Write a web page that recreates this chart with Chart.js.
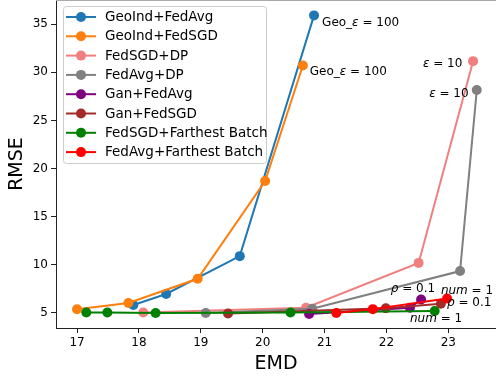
<!DOCTYPE html>
<html lang="en">
<head>
    <meta charset="UTF-8">
    <title>RMSE vs EMD</title>
    <script src="https://cdn.jsdelivr.net/npm/chart.js"></script>
    <style>
        html, body { margin: 0; background: #fff; overflow: hidden; }
        #wrap { width: 496px; height: 379px; overflow: hidden; }
        canvas { display: block; }
    </style>
</head>
<body>
<div id="wrap"><canvas id="chart" width="504" height="379"></canvas></div>
<script>
    // series names and colours (matplotlib defaults / named colours)
    const seriesNames = ['GeoInd+FedAvg', 'GeoInd+FedSGD', 'FedSGD+DP', 'FedAvg+DP',
        'Gan+FedAvg', 'Gan+FedSGD', 'FedSGD+Farthest Batch', 'FedAvg+Farthest Batch'];
    const seriesColors = ['#1f77b4', '#ff7f0e', '#f08080', '#808080',
        '#800080', '#a52a2a', '#008000', '#ff0000'];

    // EMD (x) and RMSE (y)
    const geoFedAvgX = [17.91, 18.44, 19.63, 20.83];
    const geoFedAvgY = [5.83, 6.97, 10.9, 35.9];
    const geoFedSgdX = [17.0, 17.83, 18.95, 20.04, 20.65];
    const geoFedSgdY = [5.38, 6.04, 8.55, 18.7, 30.7];
    const sgdDpX = [18.07, 20.7, 22.52, 23.4];
    const sgdDpY = [5.05, 5.55, 10.2, 31.15];
    const avgDpX = [19.08, 20.8, 23.19, 23.46];
    const avgDpY = [5.0, 5.45, 9.35, 28.15];
    const ganAvgX = [20.75, 22.38, 22.56];
    const ganAvgY = [4.9, 5.55, 6.4];
    const ganSgdX = [19.44, 21.99, 22.88];
    const ganSgdY = [4.95, 5.5, 5.95];
    const farSgdX = [17.15, 17.49, 18.27, 20.45, 22.78];
    const farSgdY = [5.05, 5.05, 5.0, 5.05, 5.2];
    const farAvgX = [21.19, 21.78, 22.98];
    const farAvgY = [5.0, 5.4, 6.5];

    const xTicks = [17, 18, 19, 20, 21, 22, 23];
    const yTicks = [5, 10, 15, 20, 25, 30, 35];

    // text notes: anchor (x, y) in data units, parts with italic flag
    const noteX = [20.96, 20.76, 22.59, 22.69, 22.07, 22.88, 22.98, 22.38];
    const noteY = [35.1, 30.03, 30.86, 27.74, 7.49, 7.28, 6.04, 4.38];
    const noteParts = [
        [['Geo_', 0], ['ε', 1], [' = 100', 0]],
        [['Geo_', 0], ['ε', 1], [' = 100', 0]],
        [['ε', 1], [' = 10', 0]],
        [['ε', 1], [' = 10', 0]],
        [['ρ', 1], [' = 0.1', 0]],
        [['num', 1], [' = 1', 0]],
        [['ρ', 1], [' = 0.1', 0]],
        [['num', 1], [' = 1', 0]]
    ];

    const allX = [geoFedAvgX, geoFedSgdX, sgdDpX, avgDpX, ganAvgX, ganSgdX, farSgdX, farAvgX];
    const allY = [geoFedAvgY, geoFedSgdY, sgdDpY, avgDpY, ganAvgY, ganSgdY, farSgdY, farAvgY];

    const FONT = '"DejaVu Sans", sans-serif';

    const datasets = seriesNames.map((name, i) => ({
        label: name,
        data: allX[i].map((x, j) => ({ x: x, y: allY[i][j] })),
        showLine: true,
        borderColor: seriesColors[i],
        backgroundColor: seriesColors[i],
        borderWidth: 2,
        pointRadius: 5,
        pointBorderWidth: 0,
        pointBackgroundColor: seriesColors[i],
        clip: false,
        order: -i // later series on top, like matplotlib
    }));

    const extras = {
        id: 'extras',
        afterDatasetsDraw(chart) {
            const c = chart.ctx;
            const xs = chart.scales.x, ys = chart.scales.y;
            // top spine (cut off at the edge)
            c.save();
            c.strokeStyle = '#aaa';
            c.lineWidth = 1;
            c.beginPath();
            c.moveTo(chart.chartArea.left, 0.5);
            c.lineTo(chart.chartArea.right, 0.5);
            c.stroke();

            // notes
            c.fillStyle = '#000';
            c.textBaseline = 'middle';
            noteParts.forEach((parts, k) => {
                let px = xs.getPixelForValue(noteX[k]);
                const py = ys.getPixelForValue(noteY[k]);
                parts.forEach(([t, it]) => {
                    c.font = (it ? 'oblique ' : '') + '12px ' + FONT;
                    c.fillText(t, px, py);
                    px += c.measureText(t).width;
                });
            });

            // legend box, upper left
            const bx = 63, by = 6, bw = 203, bh = 157;
            c.fillStyle = 'rgba(255,255,255,0.8)';
            c.strokeStyle = '#cccccc';
            c.beginPath();
            c.roundRect(bx + 0.5, by + 0.5, bw, bh, 3);
            c.fill();
            c.stroke();
            c.font = '13.5px ' + FONT;
            seriesNames.forEach((name, i) => {
                const ry = 17 + i * 19.3;
                c.strokeStyle = seriesColors[i];
                c.lineWidth = 2;
                c.beginPath();
                c.moveTo(66, ry);
                c.lineTo(96, ry);
                c.stroke();
                c.fillStyle = seriesColors[i];
                c.beginPath();
                c.arc(81, ry, 5, 0, Math.PI * 2);
                c.fill();
                c.fillStyle = '#000';
                c.fillText(name, 105, ry + 0.5);
            });
            c.restore();
        }
    };

    new Chart(document.getElementById('chart'), {
        type: 'scatter',
        data: { datasets: datasets },
        options: {
            responsive: false,
            animation: false,
            layout: { autoPadding: false, padding: 0 },
            plugins: { legend: { display: false }, tooltip: { enabled: false } },
            scales: {
                x: {
                    type: 'linear',
                    min: 16.66,
                    max: 23.9,
                    afterBuildTicks: s => { s.ticks = xTicks.map(v => ({ value: v })); },
                    afterFit: s => { s.height = 51; s.paddingLeft = 0; s.paddingRight = 0; },
                    grid: { drawOnChartArea: false, tickLength: 5, tickColor: '#222', tickWidth: 1 },
                    border: { color: '#222', width: 1 },
                    ticks: { color: '#000', padding: 3, font: { family: FONT, size: 12 } },
                    title: { display: false }
                },
                y: {
                    type: 'linear',
                    min: 3.44,
                    max: 37.5,
                    afterBuildTicks: s => { s.ticks = yTicks.map(v => ({ value: v })); },
                    afterFit: s => { s.width = 56; s.paddingTop = 0; s.paddingBottom = 0; },
                    grid: { drawOnChartArea: false, tickLength: 5, tickColor: '#222', tickWidth: 1 },
                    border: { color: '#222', width: 1 },
                    ticks: { color: '#000', padding: 3, font: { family: FONT, size: 12 } },
                    title: { display: true, text: 'RMSE', color: '#000',
                        font: { family: FONT, size: 19 }, padding: { top: 6, bottom: 0 } }
                }
            }
        },
        plugins: [extras, {
            id: 'xTitle',
            // x title centred under the visible part of the plot
            afterDraw(chart) {
                const c = chart.ctx;
                c.save();
                c.font = '19px ' + FONT;
                c.fillStyle = '#000';
                c.textAlign = 'center';
                c.textBaseline = 'middle';
                c.fillText('EMD', (chart.chartArea.left + 496) / 2, 364);
                c.restore();
            }
        }]
    });
</script>
</body>
</html>
